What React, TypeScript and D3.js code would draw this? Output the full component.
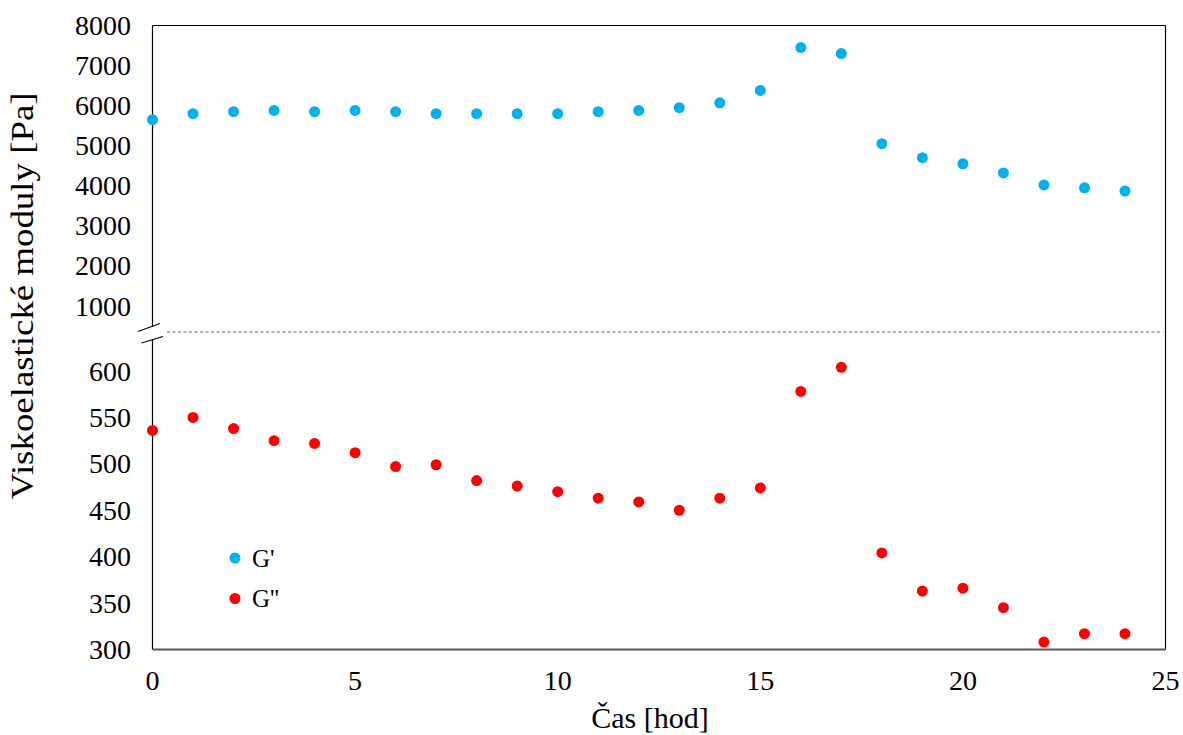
import React from "react";
import * as d3 from "d3";

const hours = [0,1,2,3,4,5,6,7,8,9,10,11,12,13,14,15,16,17,18,19,20,21,22,23,24];
const gPrime = [5650,5800,5850,5880,5850,5880,5850,5800,5800,5800,5800,5850,5880,5950,6070,6380,7450,7300,5050,4700,4550,4320,4020,3950,3870];
const gDouble = [536,550,538,525,522,512,497,499,482,476,470,463,459,450,463,474,578,604,404,363,366,345,308,317,317];
const upperTicks = [1000,2000,3000,4000,5000,6000,7000,8000];
const lowerTicks = [300,350,400,450,500,550,600];
const xTicks = [0,5,10,15,20,25];
const seriesNames = ["G'", "G''"];
const colors = ["#00b0f0", "#ff0000"];

export default function App() {
  const W = 1183, H = 735;
  const left = 152.5, right = 1165.5, top = 25.5, bottom = 649.5, breakY = 332;
  const x = d3.scaleLinear().domain([0, 25]).range([left, right]);
  const yU = d3.scaleLinear().domain([1000, 8000]).range([306, top]);
  const yL = d3.scaleLinear().domain([300, 600]).range([bottom, 371]);
  const font = "'Liberation Serif', 'Times New Roman', serif";
  return (
    <svg width={W} height={H} style={{ position: "absolute", left: 0, top: 0, background: "#fff" }} fontFamily={font}>
      {/* frame */}
      <line x1={left} x2={right} y1={top} y2={top} stroke="#000" strokeWidth={1.2} />
      <line x1={right} x2={right} y1={top} y2={bottom} stroke="#000" strokeWidth={1.2} />
      <line x1={left} x2={left} y1={top} y2={327} stroke="#000" strokeWidth={1.2} />
      <line x1={left} x2={left} y1={339} y2={bottom} stroke="#000" strokeWidth={1.2} />
      <line x1={left} x2={right} y1={bottom} y2={bottom} stroke="#595959" strokeWidth={2} />
      {/* break */}
      <line x1={138} y1={331.5} x2={160} y2={323.5} stroke="#000" strokeWidth={1.2} />
      <line x1={141.5} y1={343} x2={163} y2={336.5} stroke="#000" strokeWidth={1.2} />
      <line x1={167} x2={1163} y1={breakY} y2={breakY} stroke="#999" strokeWidth={1.3} strokeDasharray="3,2.5" />
      {/* ticks */}
      {upperTicks.map(t => (
        <text key={"u" + t} x={131} y={yU(t)} dy="0.34em" textAnchor="end" fontSize={28}>{t}</text>
      ))}
      {lowerTicks.map(t => (
        <text key={"l" + t} x={131} y={yL(t)} dy="0.34em" textAnchor="end" fontSize={28}>{t}</text>
      ))}
      {xTicks.map(t => (
        <text key={"x" + t} x={x(t)} y={690} textAnchor="middle" fontSize={28}>{t}</text>
      ))}
      <text x={650} y={728} textAnchor="middle" fontSize={30}>Čas [hod]</text>
      <text transform={`translate(33,296) rotate(-90)`} textAnchor="middle" fontSize={31} textLength={407} lengthAdjust="spacingAndGlyphs">Viskoelastické moduly [Pa]</text>
      {/* points */}
      {hours.map((h, i) => (
        <circle key={"gp" + i} cx={x(h)} cy={yU(gPrime[i])} r={5.5} fill={colors[0]} />
      ))}
      {hours.map((h, i) => (
        <circle key={"gd" + i} cx={x(h)} cy={yL(gDouble[i])} r={5.5} fill={colors[1]} />
      ))}
      {/* legend */}
      {seriesNames.map((n, i) => (
        <g key={n}>
          <circle cx={235} cy={558 + i * 40.5} r={5.5} fill={colors[i]} />
          <text x={252} y={567 + i * 39.5} fontSize={25}>{n}</text>
        </g>
      ))}
    </svg>
  );
}
